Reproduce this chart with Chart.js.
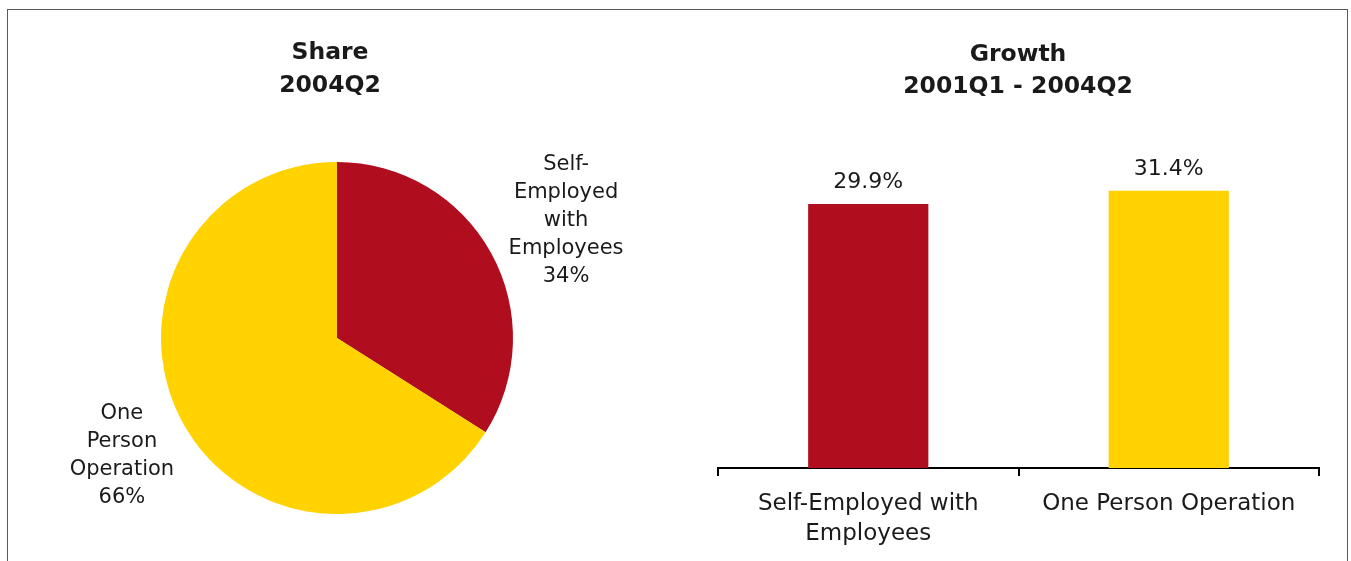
<!DOCTYPE html>
<html>
<head>
<meta charset="utf-8">
<script src="https://cdn.jsdelivr.net/npm/chart.js@4.4.1/dist/chart.umd.min.js"></script>
<style>
  html, body { margin: 0; padding: 0; background: #fff; }
  body { width: 1351px; height: 561px; position: relative; overflow: hidden; }
  .frame {
    position: absolute; left: 7px; top: 9px; width: 1341px; height: 600px;
    box-sizing: border-box; border: 1px solid #5a5a5a;
  }
  #sharePie { position: absolute; left: 0; top: 0; }
  #growthBar { position: absolute; left: 680px; top: 0; }
</style>
</head>
<body>
<div class="frame"></div>
<canvas id="sharePie" width="680" height="561"></canvas>
<canvas id="growthBar" width="671" height="561"></canvas>
<script>
// data
const categories = ['Self-Employed with Employees', 'One Person Operation'];
const shareValues = [34, 66];          // share of self-employed, 2004Q2 (%)
const growthValues = [29.9, 31.4];     // growth 2001Q1 - 2004Q2 (%)
const pieLabelLines = [['Self-', 'Employed', 'with', 'Employees'], ['One', 'Person', 'Operation']];
const barTickLabels = [['Self-Employed with', 'Employees'], ['One Person Operation']];
const seriesColors = ['#B00D1E', '#FFD200'];

const FONT = '"DejaVu Sans", Verdana, sans-serif';
const INK = '#1a1a1a';

// two-line heading drawn at a fixed spot of the canvas
const headingPlugin = {
  id: 'heading',
  afterDraw(chart, args, opts) {
    const ctx = chart.ctx;
    ctx.save();
    ctx.fillStyle = INK;
    ctx.font = 'bold 23.5px ' + FONT;
    ctx.textAlign = 'center';
    ctx.textBaseline = 'middle';
    opts.lines.forEach((line, i) => ctx.fillText(line, opts.x, opts.y + i * opts.lineHeight));
    ctx.restore();
  }
};

// pie: labels sit outside each slice, along its middle angle
const sliceLabelPlugin = {
  id: 'sliceLabels',
  afterDatasetsDraw(chart) {
    const ctx = chart.ctx;
    const meta = chart.getDatasetMeta(0);
    ctx.save();
    ctx.fillStyle = INK;
    ctx.font = '21px ' + FONT;
    ctx.textAlign = 'center';
    ctx.textBaseline = 'middle';
    meta.data.forEach((arc, i) => {
      const mid = (arc.startAngle + arc.endAngle) / 2;
      const dist = arc.outerRadius * 1.44;
      const cx = arc.x + Math.cos(mid) * dist + 7;
      const cy = arc.y + Math.sin(mid) * dist * 0.96;
      const lines = pieLabelLines[i].concat(shareValues[i] + '%');
      const lh = 28;
      const y0 = cy - (lines.length - 1) * lh / 2;
      lines.forEach((l, j) => ctx.fillText(l, cx, y0 + j * lh));
    });
    ctx.restore();
  }
};

// bars: value printed above each bar
const barValuePlugin = {
  id: 'barValues',
  afterDatasetsDraw(chart) {
    const ctx = chart.ctx;
    const meta = chart.getDatasetMeta(0);
    ctx.save();
    ctx.fillStyle = INK;
    ctx.font = '22px ' + FONT;
    ctx.textAlign = 'center';
    ctx.textBaseline = 'middle';
    meta.data.forEach((bar, i) => {
      ctx.fillText(growthValues[i].toFixed(1) + '%', bar.x, bar.y - 22);
    });
    ctx.restore();
  }
};

new Chart(document.getElementById('sharePie'), {
  type: 'pie',
  data: {
    labels: categories,
    datasets: [{
      data: shareValues,
      backgroundColor: seriesColors,
      borderWidth: 0
    }]
  },
  options: {
    responsive: false,
    animation: false,
    layout: { padding: { left: 161, right: 167, top: 162, bottom: 47 } },
    plugins: {
      legend: { display: false },
      tooltip: { enabled: false },
      heading: { lines: ['Share', '2004Q2'], x: 330, y: 53, lineHeight: 33 }
    }
  },
  plugins: [headingPlugin, sliceLabelPlugin]
});

new Chart(document.getElementById('growthBar'), {
  type: 'bar',
  data: {
    labels: barTickLabels,
    datasets: [{
      data: growthValues,
      backgroundColor: seriesColors,
      borderWidth: 0,
      barPercentage: 0.4,
      categoryPercentage: 1
    }]
  },
  options: {
    responsive: false,
    animation: false,
    layout: { padding: { left: 38, right: 32, top: 159, bottom: 0 } },
    scales: {
      x: {
        offset: true,
        grid: {
          offset: true,
          drawOnChartArea: false,
          drawTicks: true,
          tickLength: 8,
          color: '#000',
          lineWidth: 2
        },
        border: { display: true, color: '#000', width: 2 },
        ticks: {
          color: INK,
          padding: 13,
          maxRotation: 0,
          autoSkip: false,
          font: { family: FONT, size: 23, lineHeight: 1.3 }
        },
        afterFit(axis) { axis.height = 93; }
      },
      y: {
        display: false,
        min: 0,
        max: 35
      }
    },
    plugins: {
      legend: { display: false },
      tooltip: { enabled: false },
      heading: { lines: ['Growth', '2001Q1 - 2004Q2'], x: 338, y: 55, lineHeight: 32 }
    }
  },
  plugins: [headingPlugin, barValuePlugin]
});
</script>
</body>
</html>
